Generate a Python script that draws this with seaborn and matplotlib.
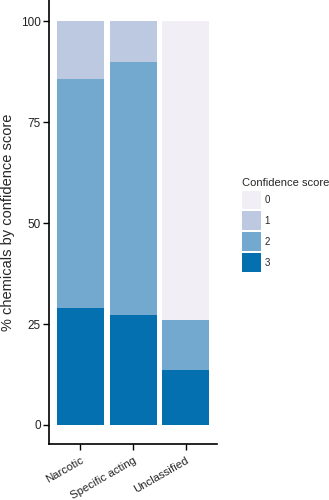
import matplotlib
matplotlib.use("Agg")
import matplotlib.pyplot as plt
import seaborn as sns
import pandas as pd
from matplotlib.patches import Patch

categories = ["Narcotic", "Specific acting", "Unclassified"]
score3 = [29.0, 27.3, 13.5]
score2 = [56.7, 62.6, 12.4]
score1 = [14.3, 10.1, 0.0]
score0 = [0.0, 0.0, 74.1]
scores = ["0", "1", "2", "3"]
colors = ["#f1eef6", "#bdc9e1", "#74a9cf", "#0570b0"]
yticks = [0, 25, 50, 75, 100]

sns.set_theme(style="ticks")
plt.rcParams["font.family"] = ["Liberation Sans", "DejaVu Sans"]

df = pd.DataFrame({"category": categories, "3": score3, "2": score2,
                   "1": score1, "0": score0})
# cumulative tops, stacking 3 at the bottom
df["c3"] = df["3"]
df["c2"] = df["c3"] + df["2"]
df["c1"] = df["c2"] + df["1"]
df["c0"] = df["c1"] + df["0"]

fig = plt.figure(figsize=(3.29, 5.0), dpi=100)
ax = fig.add_axes([0.149, 0.1114, 0.5106, 0.8886])

for s, col in zip(scores, colors):
    sns.barplot(data=df, x="category", y="c" + s, color=col, width=0.89,
                saturation=1, linewidth=0, ax=ax, order=categories)

ax.set_xlim(-0.59, 2.59)
ax.set_ylim(-4.8, 105.3)
ax.set_yticks(yticks)
ax.set_yticklabels([str(t) for t in yticks])
ax.set_xlabel("")
ax.set_ylabel("% chemicals by confidence score", fontsize=10.5, labelpad=4)
ax.tick_params(axis="both", labelsize=8.5, length=4, width=1, color="black",
               labelcolor="#222222", pad=2)
ax.tick_params(axis="x", pad=4, labelsize=8.2)
plt.setp(ax.get_xticklabels(), rotation=30, ha="right", rotation_mode="anchor")
for sp in ["left", "bottom"]:
    ax.spines[sp].set_linewidth(1.2)
    ax.spines[sp].set_color("black")
sns.despine(ax=ax)

handles = [Patch(facecolor=c, edgecolor="none", label=s) for s, c in zip(scores, colors)]
leg = fig.legend(handles=handles, title="Confidence score", loc="upper left",
                 bbox_to_anchor=(0.725, 0.651), frameon=False, fontsize=7,
                 title_fontsize=8, handlelength=1.9, handleheight=2.6,
                 labelspacing=0.22, handletextpad=0.35, borderaxespad=0)
leg._legend_box.align = "left"

fig.savefig("out.png", dpi=100)
